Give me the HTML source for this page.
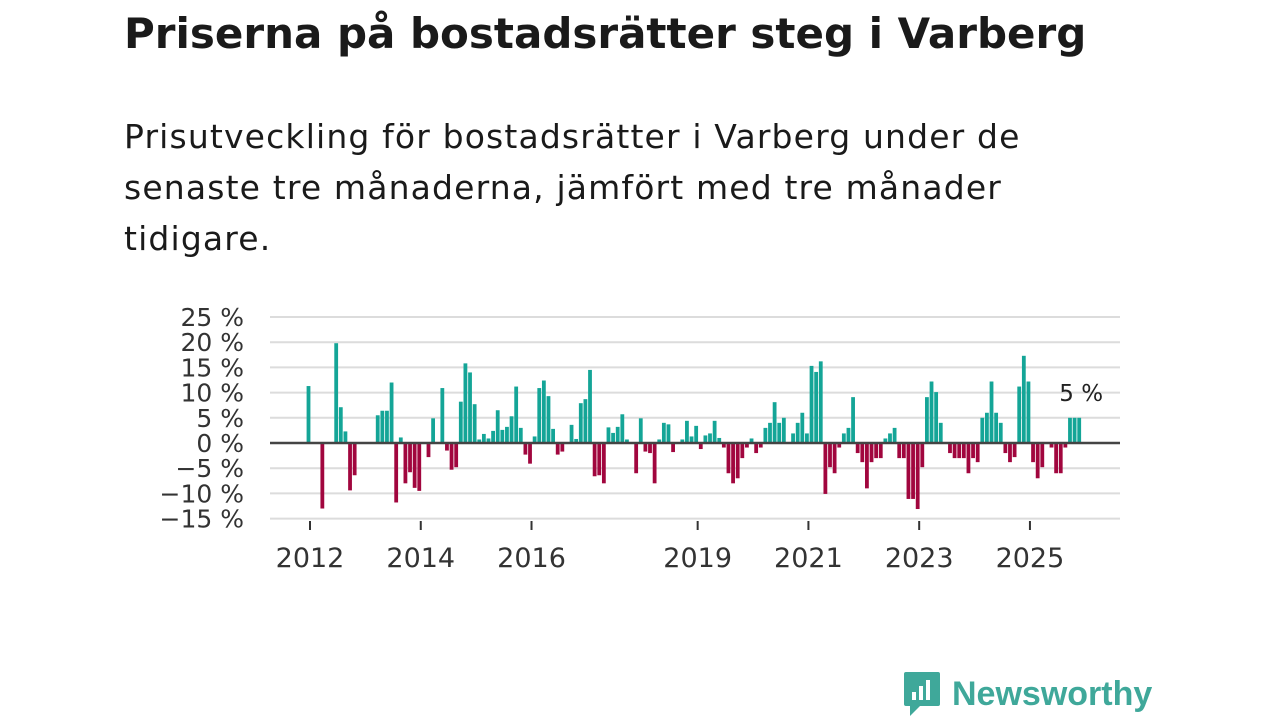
<!DOCTYPE html>
<html><head><meta charset="utf-8">
<style>
body{margin:0;width:1280px;height:720px;background:#fff;font-family:"DejaVu Sans",sans-serif;color:#1a1a1a;position:relative;overflow:hidden}
#title{position:absolute;left:124px;top:9px;font-size:42px;font-weight:bold;white-space:nowrap}
#sub{position:absolute;left:124px;top:111px;font-size:33px;line-height:51px;white-space:nowrap;letter-spacing:1.15px}
#chart{position:absolute;left:0;top:0}
#logo{position:absolute;left:902px;top:670px;display:flex;align-items:center}
#logo span{font-family:"Liberation Sans",sans-serif;font-size:34px;font-weight:bold;color:#3fa89a;margin-left:10px}
</style></head><body>
<div id="title">Priserna på bostadsrätter steg i Varberg</div>
<div id="sub">Prisutveckling för bostadsrätter i Varberg under de<br>senaste tre månaderna, jämfört med tre månader<br>tidigare.</div>
<svg id="chart" width="1280" height="720"></svg>
<div id="logo">
<svg width="40" height="48" viewBox="0 0 40 48"><path d="M4 2h32a2 2 0 0 1 2 2v30a2 2 0 0 1-2 2H18l-10 10v-10H4a2 2 0 0 1-2-2V4a2 2 0 0 1 2-2z" fill="#3fa89a"/><rect x="10" y="22" width="4" height="8" fill="#fff"/><rect x="17" y="16" width="4" height="14" fill="#fff"/><rect x="24" y="10" width="4" height="20" fill="#fff"/></svg>
<span>Newsworthy</span></div>
<script>
const months=[0,3,6,7,8,9,10,15,16,17,18,19,20,21,22,23,24,26,27,29,30,31,32,33,34,35,36,37,38,39,40,41,42,43,44,45,46,47,48,49,50,51,52,53,54,55,57,58,59,60,61,62,63,64,65,66,67,68,69,71,72,73,74,75,76,77,78,79,81,82,83,84,85,86,87,88,89,90,91,92,93,94,95,96,97,98,99,100,101,102,103,105,106,107,108,109,110,111,112,113,114,115,116,117,118,119,120,121,122,123,124,125,126,127,128,129,130,131,132,133,134,135,136,137,139,140,141,142,143,144,145,146,147,148,149,150,151,152,153,154,155,156,157,158,159,161,162,163,164,165,166,167];
const values=[11.3,-13,19.8,7.1,2.3,-9.4,-6.4,5.5,6.4,6.4,12,-11.8,1.1,-8,-5.8,-8.9,-9.5,-2.8,4.9,10.9,-1.5,-5.3,-4.8,8.2,15.8,14,7.7,0.7,1.8,0.9,2.4,6.5,2.6,3.2,5.3,11.2,3,-2.3,-4.1,1.3,10.9,12.4,9.3,2.8,-2.3,-1.7,3.6,0.8,7.9,8.7,14.5,-6.6,-6.4,-8,3.1,2,3.2,5.7,0.7,-6,4.9,-1.7,-2,-8,0.7,4,3.7,-1.8,0.7,4.4,1.3,3.4,-1.2,1.5,1.9,4.4,1,-0.9,-6,-8,-7,-3,-0.9,0.9,-2,-0.9,3,4,8.1,4,5,1.9,4,6,1.9,15.3,14.1,16.2,-10.1,-4.8,-6,-0.9,1.9,3,9.1,-2,-3.8,-9,-3.8,-3,-3,0.9,1.9,3,-3,-3,-11.1,-11.1,-13.1,-4.8,9.1,12.2,10.1,4,-2,-3,-3,-3,-6,-3,-3.8,5,6,12.2,6,4,-2,-3.8,-2.8,11.2,17.3,12.2,-3.8,-7,-4.8,-0.9,-6,-6,-0.9,5,5,5];
const yTicks=[25,20,15,10,5,0,-5,-10,-15];
const yTickLabels=["25 %","20 %","15 %","10 %","5 %","0 %","−5 %","−10 %","−15 %"];
const xYears=[2012,2014,2016,2019,2021,2023,2025];
const lastLabel="5 %";
const NS="http://www.w3.org/2000/svg";
const svg=document.getElementById('chart');
const y=v=>443-v*5.04;
const x=m=>310+m*4.615-1.5;
const yearX=yr=>310+(yr-2012)*12*4.615;
function mk(t,a){const e=document.createElementNS(NS,t);for(const k in a)e.setAttribute(k,a[k]);svg.appendChild(e);return e;}
yTicks.forEach((t,i)=>{
  if(t!==0){const g=mk('line',{x1:270,x2:1120,y1:y(t),y2:y(t),stroke:'#dcdcdc','stroke-width':2});
  
  }
  const l=mk('text',{x:244,y:y(t)+9,'text-anchor':'end','font-size':25,fill:'#333','font-family':'DejaVu Sans, sans-serif'});
  l.textContent=yTickLabels[i];
  
  
});
months.forEach((m,i)=>{
  const v=values[i];
  const r=mk('rect',{x:x(m)-1.9,width:3.8,y:Math.min(y(v),y(0)),height:Math.abs(y(v)-y(0)),fill:v>=0?'#14a597':'#a1063e'});
  
  
});
const z=mk('line',{x1:270,x2:1120,y1:y(0),y2:y(0),stroke:'#444','stroke-width':2.5});


xYears.forEach(yr=>{
  const t=mk('line',{x1:yearX(yr),x2:yearX(yr),y1:521,y2:530,stroke:'#333','stroke-width':2});
  
  
  const l=mk('text',{x:yearX(yr),y:567,'text-anchor':'middle','font-size':27,fill:'#333','font-family':'DejaVu Sans, sans-serif'});
  l.textContent=yr;
  
  
});
const last=mk('text',{x:x(months[months.length-1])+2,y:y(values[values.length-1])-17,'text-anchor':'middle','font-size':23,fill:'#222','font-family':'DejaVu Sans, sans-serif'});
last.textContent=lastLabel;


</script>
</body></html>
